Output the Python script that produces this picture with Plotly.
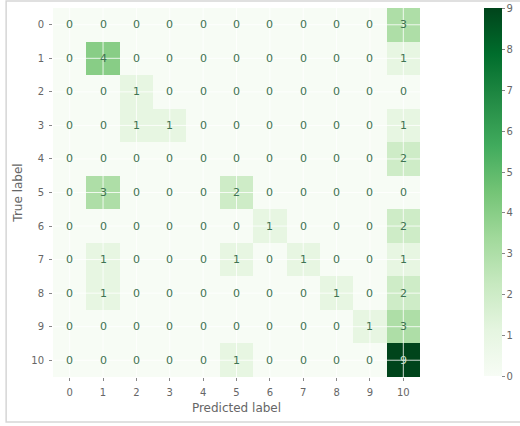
import plotly.graph_objects as go

labels = list(range(11))
matrix = [
    [0, 0, 0, 0, 0, 0, 0, 0, 0, 0, 3],
    [0, 4, 0, 0, 0, 0, 0, 0, 0, 0, 1],
    [0, 0, 1, 0, 0, 0, 0, 0, 0, 0, 0],
    [0, 0, 1, 1, 0, 0, 0, 0, 0, 0, 1],
    [0, 0, 0, 0, 0, 0, 0, 0, 0, 0, 2],
    [0, 3, 0, 0, 0, 2, 0, 0, 0, 0, 0],
    [0, 0, 0, 0, 0, 0, 1, 0, 0, 0, 2],
    [0, 1, 0, 0, 0, 1, 0, 1, 0, 0, 1],
    [0, 1, 0, 0, 0, 0, 0, 0, 1, 0, 2],
    [0, 0, 0, 0, 0, 0, 0, 0, 0, 1, 3],
    [0, 0, 0, 0, 0, 1, 0, 0, 0, 0, 9],
]

zmax = max(max(r) for r in matrix)
thresh = zmax / 2.0

fig = go.Figure()
fig.add_trace(go.Heatmap(
    z=matrix, x=labels, y=labels, colorscale="Greens", zmin=0, zmax=zmax,
    showscale=True,
    colorbar=dict(x=1.171, xanchor="left", y=0.5, yanchor="middle", len=0.997,
                  xpad=0, ypad=0,
                  thickness=18, outlinewidth=0, tickmode="linear", tick0=0, dtick=1,
                  ticks="outside", ticklen=3, tickcolor="#888", tickwidth=1,
                  tickfont=dict(family="DejaVu Sans", size=10, color="#666")),
    hoverinfo="skip",
))

annotations = []
for i, row in enumerate(matrix):
    for j, v in enumerate(row):
        annotations.append(dict(
            x=labels[j], y=labels[i], xref="x", yref="y", text=str(v), showarrow=False,
            font=dict(family="DejaVu Sans", size=11,
                      color="#cfe3cf" if v > thresh else "#3f7352")))

axis_common = dict(
    tickmode="array", tickvals=labels, ticktext=[str(l) for l in labels],
    showgrid=False, zeroline=False, showline=False,
    ticks="outside", ticklen=3, tickcolor="#888", ticklabelstandoff=3,
    tickfont=dict(family="DejaVu Sans", size=10, color="#666"),
)

shapes = [dict(type="rect", xref="paper", yref="paper",
               x0=-0.1277, x1=1.5, y0=-0.122, y1=1.019,
               line=dict(color="#d6d6d6", width=1.5), layer="below")]
for l in labels:
    shapes.append(dict(type="line", xref="x", yref="paper", x0=l, x1=l, y0=0, y1=1,
                       line=dict(color="rgba(255,255,255,0.8)", width=1), layer="above"))
    shapes.append(dict(type="line", xref="paper", yref="y", x0=0, x1=1, y0=l, y1=l,
                       line=dict(color="rgba(255,255,255,0.8)", width=1), layer="above"))

fig.update_layout(
    width=520, height=426,
    margin=dict(l=53, r=99, t=8, b=49),
    paper_bgcolor="white", plot_bgcolor="white",
    font=dict(family="DejaVu Sans", color="#666"),
    xaxis=dict(axis_common, range=[-0.5, 10.5],
               title=dict(text="Predicted label", font=dict(size=12, color="#666"), standoff=6)),
    yaxis=dict(axis_common, range=[10.5, -0.5],
               title=dict(text="True label", font=dict(size=12, color="#666"), standoff=6)),
    shapes=shapes,
    annotations=annotations,
    showlegend=False,
)

fig.write_html("out.html")
